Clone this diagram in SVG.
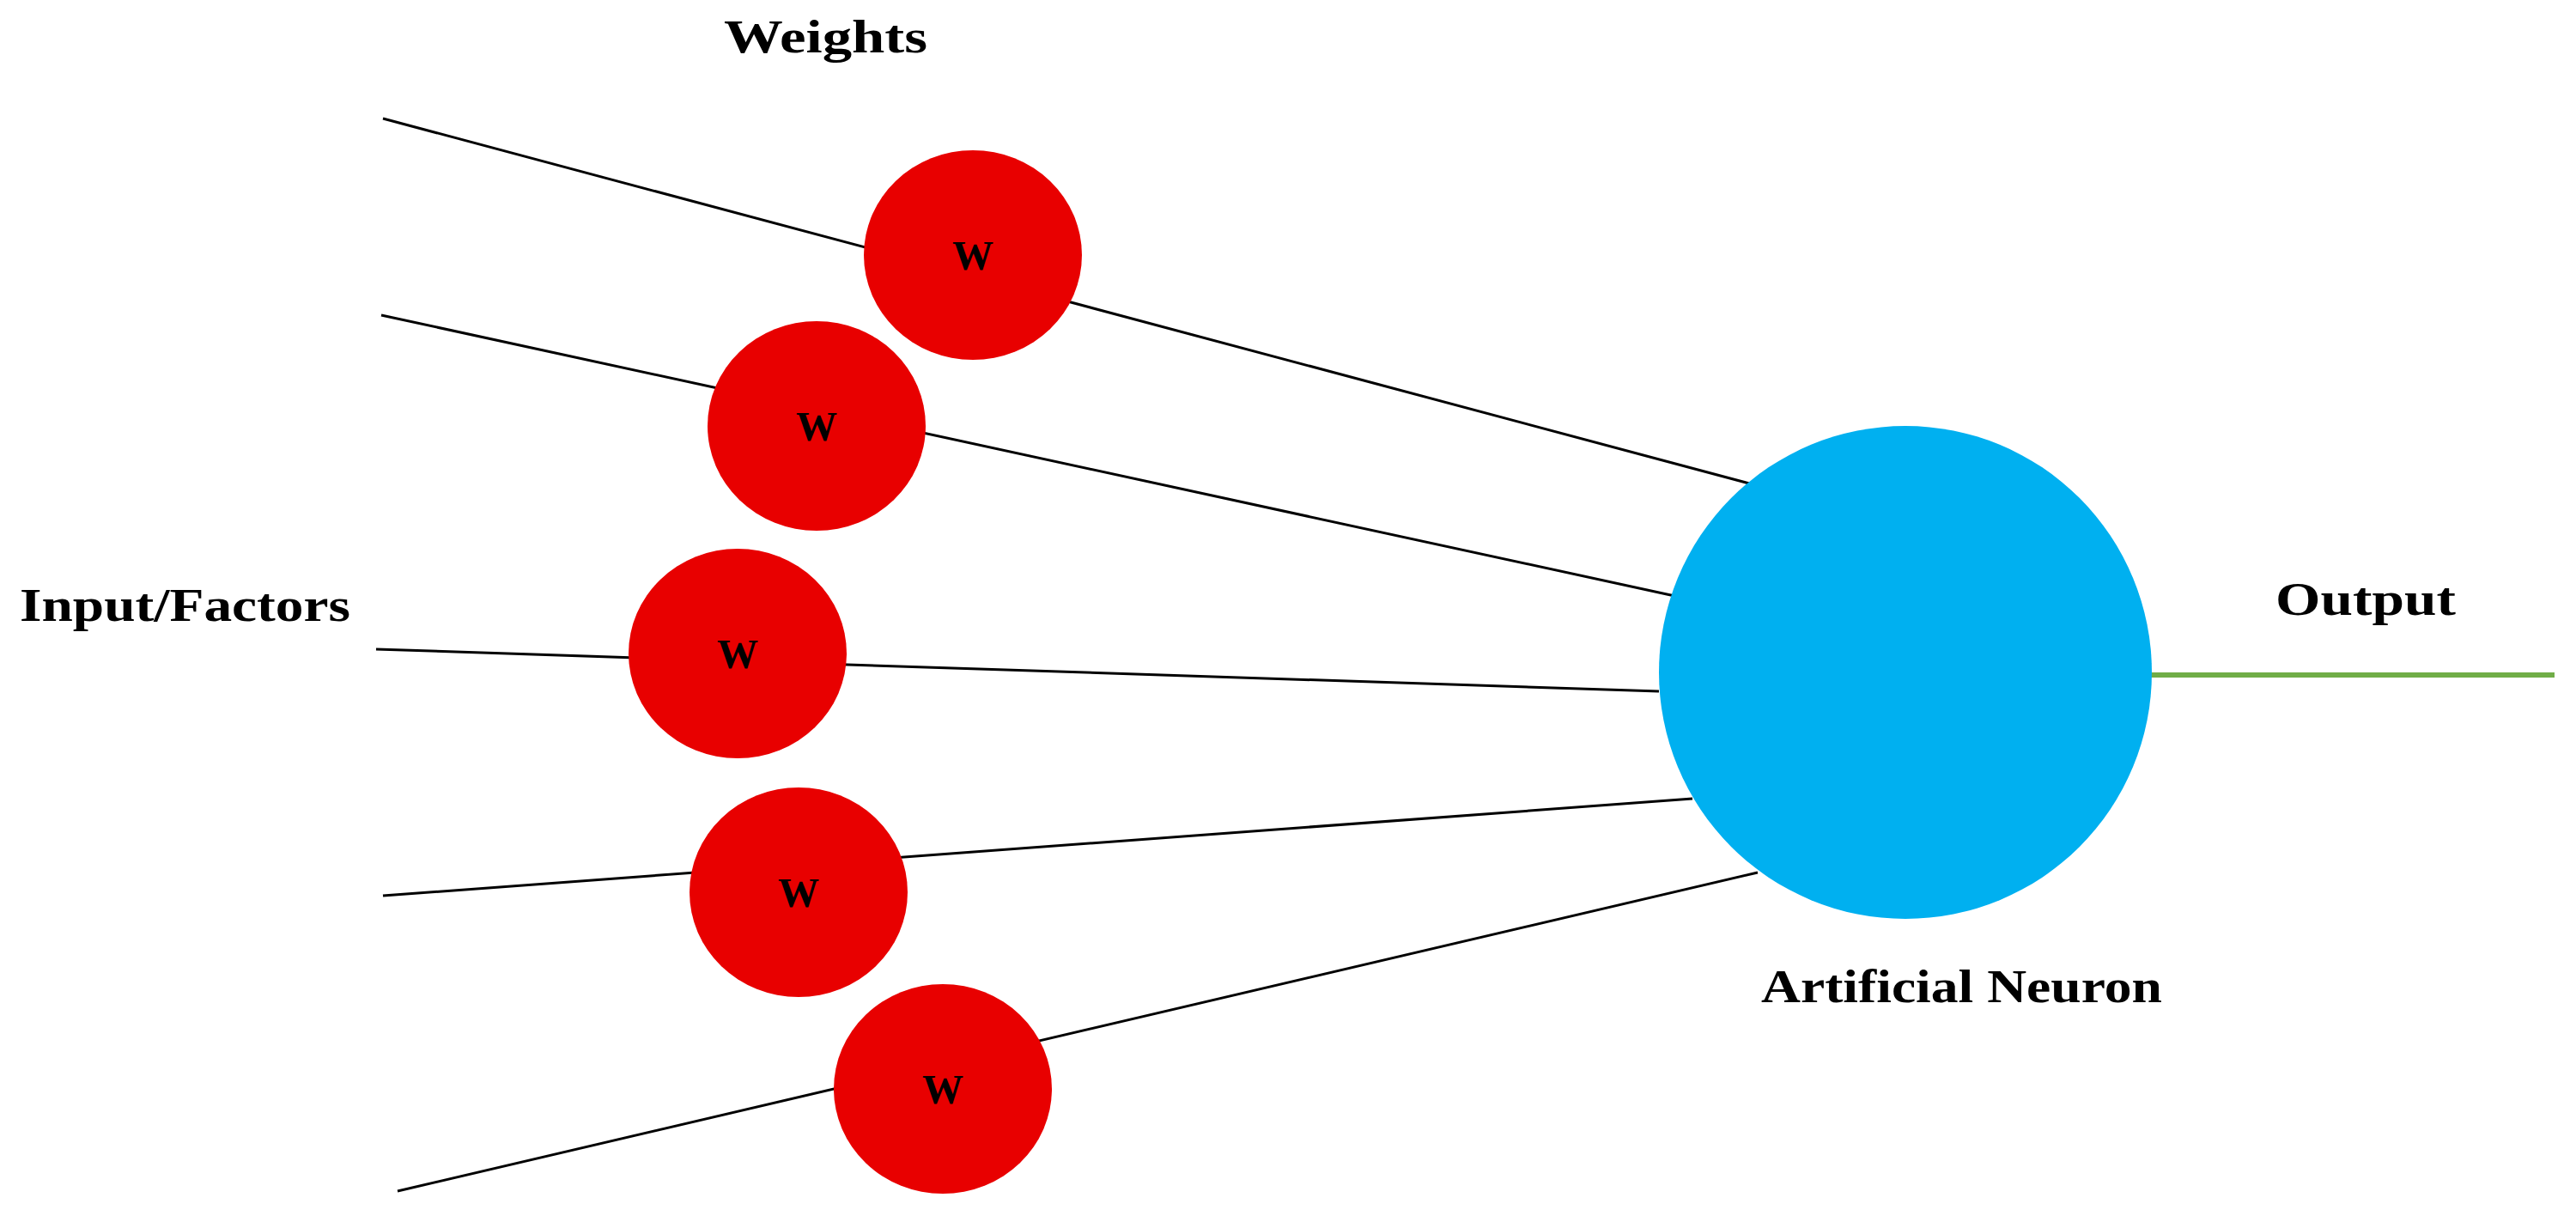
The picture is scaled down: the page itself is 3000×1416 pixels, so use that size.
<svg xmlns="http://www.w3.org/2000/svg" width="3000" height="1416" viewBox="0 0 3000 1416">
<style>
.ln{stroke:#000;stroke-width:3;fill:none}
.w{fill:#e80000}
.t{font-family:"Liberation Serif",serif;font-weight:bold;font-size:54px;fill:#000}
.wl{font-family:"Liberation Serif",serif;font-weight:bold;font-size:48px;fill:#000;text-anchor:middle}
</style>
<rect width="3000" height="1416" fill="#fff"/>
<g id="connectors">
<line class="ln" x1="446" y1="138" x2="2041" y2="564"/>
<line class="ln" x1="444" y1="367" x2="1955" y2="695"/>
<line class="ln" x1="438" y1="756" x2="1932" y2="805"/>
<line class="ln" x1="446" y1="1043" x2="1971" y2="930"/>
<line class="ln" x1="463" y1="1387" x2="2047" y2="1016"/>
<line x1="2505" y1="786" x2="2975" y2="786" stroke="#70ad47" stroke-width="6"/>
</g>
<g id="w1"><ellipse class="w" cx="1133" cy="297" rx="127" ry="122"/><text class="wl" x="1133" y="314">W</text></g>
<g id="w2"><ellipse class="w" cx="951" cy="496" rx="127" ry="122"/><text class="wl" x="951" y="513">W</text></g>
<g id="w3"><ellipse class="w" cx="859" cy="761" rx="127" ry="122"/><text class="wl" x="859" y="778">W</text></g>
<g id="w4"><ellipse class="w" cx="930" cy="1039" rx="127" ry="122"/><text class="wl" x="930" y="1056">W</text></g>
<g id="w5"><ellipse class="w" cx="1098" cy="1268" rx="127" ry="122"/><text class="wl" x="1098" y="1285">W</text></g>
<g id="neuron"><circle cx="2219" cy="783" r="287" fill="#00b0f0"/></g>
<g id="labels">
<text class="t" x="843" y="61" textLength="237" lengthAdjust="spacingAndGlyphs">Weights</text>
<text class="t" x="23" y="723" textLength="385" lengthAdjust="spacingAndGlyphs">Input/Factors</text>
<text class="t" x="2650" y="716" textLength="210" lengthAdjust="spacingAndGlyphs">Output</text>
<text class="t" x="2051" y="1167" textLength="467" lengthAdjust="spacingAndGlyphs">Artificial Neuron</text>
</g>
</svg>
